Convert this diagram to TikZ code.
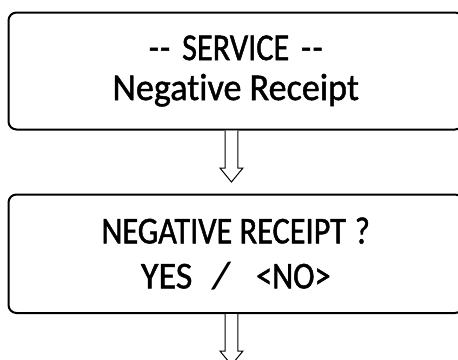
\documentclass[tikz,border=0pt]{standalone}
\usepackage{graphicx}
\usepackage{fontspec}
\setmainfont{Carlito}[FakeStretch=0.85, FakeBold=1.2, Ligatures={NoCommon}]
\newfontfamily\widefont{Carlito}[FakeStretch=0.95, FakeBold=1.2, Ligatures={NoCommon}]
\newfontfamily\slashfont{Carlito}[FakeStretch=1.35, Ligatures={NoCommon}]
\usetikzlibrary{calc}
\newcommand{\dashpair}{-\kern1.5pt-}
\begin{document}
\begin{tikzpicture}[x=1pt,y=1pt,
  panel/.style={draw, line width=2pt, rounded corners=8pt,
    minimum width=454.5pt, inner sep=0pt, align=center},
  toptext/.style={font=\fontsize{38}{40}\selectfont},
  bottext/.style={font=\fontsize{38}{45}\selectfont},
  hollow/.style={draw, line width=1pt, fill=white, line join=miter}]
\useasboundingbox (0,0) rectangle (458,-359);
\clip (0,0) rectangle (458,-359);

% the two menu screens
\node[panel, toptext, minimum height=117pt] (b1) at (235.75,-71)
  {\dashpair\hspace{12pt}SERVICE\hspace{12pt}\dashpair\\{\widefont Negative Receipt}};
\node[panel, bottext, minimum height=118.5pt] (b2) at (235.75,-253.75)
  {NEGATIVE RECEIPT\hspace{9pt}?\\{\widefont YES}\hspace{19pt}{\slashfont /}\hspace{25pt}<NO>};

% hollow down arrows leaving each screen
\coordinate (a1) at ($(b1.south)+(-4.3,0)$);
\coordinate (a2) at ($(b2.south)+(-4.3,0)$);
\draw[hollow] ($(a1)+(-6.3,0)$) -- ++(0,-37.5) -- ++(-5.2,0) -- ++(11.5,-14)
  -- ++(11.5,14) -- ++(-5.2,0) -- ++(0,37.5);
\draw[hollow] ($(a2)+(-6.3,0)$) -- ++(0,-37) -- ++(-5.2,0) -- ++(11.5,-14)
  -- ++(11.5,14) -- ++(-5.2,0) -- ++(0,37);
\end{tikzpicture}
\end{document}
